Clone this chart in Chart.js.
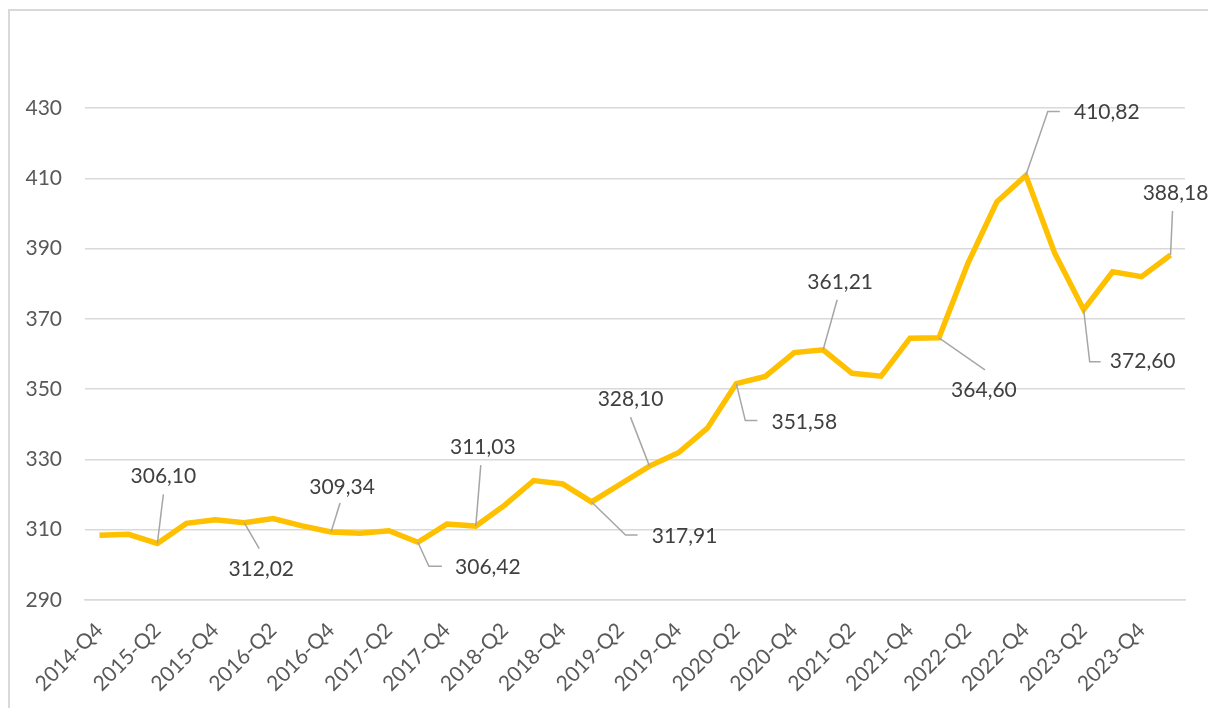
<!DOCTYPE html>
<html>
<head>
<meta charset="utf-8">
<script src="https://cdn.jsdelivr.net/npm/chart.js@4"></script>
<style>
  html, body { margin: 0; padding: 0; background: #fff; }
  #wrap { position: relative; width: 1208px; height: 708px; overflow: hidden; }
  #frame { position: absolute; left: 8px; top: 9px; width: 1300px; height: 800px;
           border-top: 2px solid #d9d9d9; border-left: 2px solid #d9d9d9; }
  canvas { position: absolute; left: 0; top: 0; }
</style>
</head>
<body>
<div id="wrap">
  <div id="frame"></div>
  <canvas id="myChart" width="1208" height="708"></canvas>
</div>
<script>
const quarters = [
  '2014-Q4',
  '2015-Q1', '2015-Q2', '2015-Q3', '2015-Q4',
  '2016-Q1', '2016-Q2', '2016-Q3', '2016-Q4',
  '2017-Q1', '2017-Q2', '2017-Q3', '2017-Q4',
  '2018-Q1', '2018-Q2', '2018-Q3', '2018-Q4',
  '2019-Q1', '2019-Q2', '2019-Q3', '2019-Q4',
  '2020-Q1', '2020-Q2', '2020-Q3', '2020-Q4',
  '2021-Q1', '2021-Q2', '2021-Q3', '2021-Q4',
  '2022-Q1', '2022-Q2', '2022-Q3', '2022-Q4',
  '2023-Q1', '2023-Q2', '2023-Q3', '2023-Q4',
  '2024-Q1'
];

const values = [
  308.4,
  308.7, 306.10, 311.8, 312.8,
  312.02, 313.2, 311.1, 309.34,
  309.0, 309.7, 306.42, 311.6,
  311.03, 317.0, 324.0, 323.0,
  317.91, 323.0, 328.10, 331.9,
  338.9, 351.58, 353.6, 360.4,
  361.21, 354.5, 353.7, 364.5,
  364.60, 385.8, 403.3, 410.82,
  388.7, 372.60, 383.4, 382.0,
  388.18
];

const yTicks = [290, 310, 330, 350, 370, 390, 410, 430];

// which points get a callout, and where the text sits relative to the point
const labelled = [2, 5, 8, 11, 13, 17, 19, 22, 25, 29, 32, 34, 37];
const labelOffsets = [
  { dx: 6,  dy: -67, leader: [[6, -49]] },
  { dx: 17, dy: 47,  leader: [[15, 26]] },
  { dx: 11, dy: -45, leader: [[9, -29]] },
  { dx: 70, dy: 25,  leader: [[11, 24], [24, 24]] },
  { dx: 7,  dy: -79, leader: [[5, -61]] },
  { dx: 93, dy: 34,  leader: [[34, 33], [46, 33]] },
  { dx: -19, dy: -67, leader: [[-19, -49]] },
  { dx: 68, dy: 39,  leader: [[9, 37], [21, 37]] },
  { dx: 17, dy: -68, leader: [[14, -50]] },
  { dx: 45, dy: 52,  leader: [[46, 32]] },
  { dx: 81, dy: -63, leader: [[22, -64], [34, -64]] },
  { dx: 59, dy: 52,  leader: [[6, 52], [17, 52]] },
  { dx: 5,  dy: -62, leader: [[2, -44]] }
];

const fmt = v => v.toFixed(2).replace('.', ',');

const callouts = {
  id: 'callouts',
  afterDatasetsDraw(chart) {
    const ctx = chart.ctx;
    const meta = chart.getDatasetMeta(0);
    ctx.save();
    labelled.forEach((idx, k) => {
      const p = meta.data[idx];
      const o = labelOffsets[k];
      ctx.strokeStyle = '#a6a6a6';
      ctx.lineWidth = 1.5;
      ctx.beginPath();
      ctx.moveTo(p.x, p.y);
      o.leader.forEach(pt => ctx.lineTo(p.x + pt[0], p.y + pt[1]));
      ctx.stroke();
      ctx.fillStyle = '#404040';
      ctx.font = '21px Lato';
      ctx.textAlign = 'center';
      ctx.textBaseline = 'middle';
      ctx.fillText(fmt(values[idx]), p.x + o.dx, p.y + o.dy);
    });
    ctx.restore();
  }
};

const data = {
  labels: quarters,
  datasets: [{
    data: values,
    borderColor: '#FFC000',
    borderWidth: 5.5,
    pointRadius: 0,
    tension: 0,
    fill: false
  }]
};

const config = {
  type: 'line',
  data: data,
  options: {
    responsive: false,
    animation: false,
    layout: { padding: { top: 108, right: 23, bottom: 0, left: 0 } },
    plugins: { legend: { display: false }, tooltip: { enabled: false } },
    scales: {
      x: {
        offset: true,
        grid: { display: false, drawTicks: false },
        border: { display: true, color: '#d9d9d9', width: 1.5 },
        afterFit: s => { s.height = 108; },
        ticks: {
          autoSkip: false,
          minRotation: 45,
          maxRotation: 45,
          padding: 18,
          color: '#595959',
          font: { family: 'Lato', size: 21 },
          callback: function(v, i) { return i % 2 === 0 ? this.getLabelForValue(v) : ''; }
        }
      },
      y: {
        min: 290,
        max: 430,
        afterFit: s => { s.width = 85; },
        afterBuildTicks: s => { s.ticks = yTicks.map(v => ({ value: v })); },
        grid: { color: '#d9d9d9', lineWidth: 1.5, drawTicks: false },
        border: { display: false },
        ticks: {
          padding: 23,
          color: '#595959',
          font: { family: 'Lato', size: 21 }
        }
      }
    }
  },
  plugins: [callouts]
};

var thisChart = new Chart(document.getElementById('myChart'), config);
</script>
</body>
</html>
